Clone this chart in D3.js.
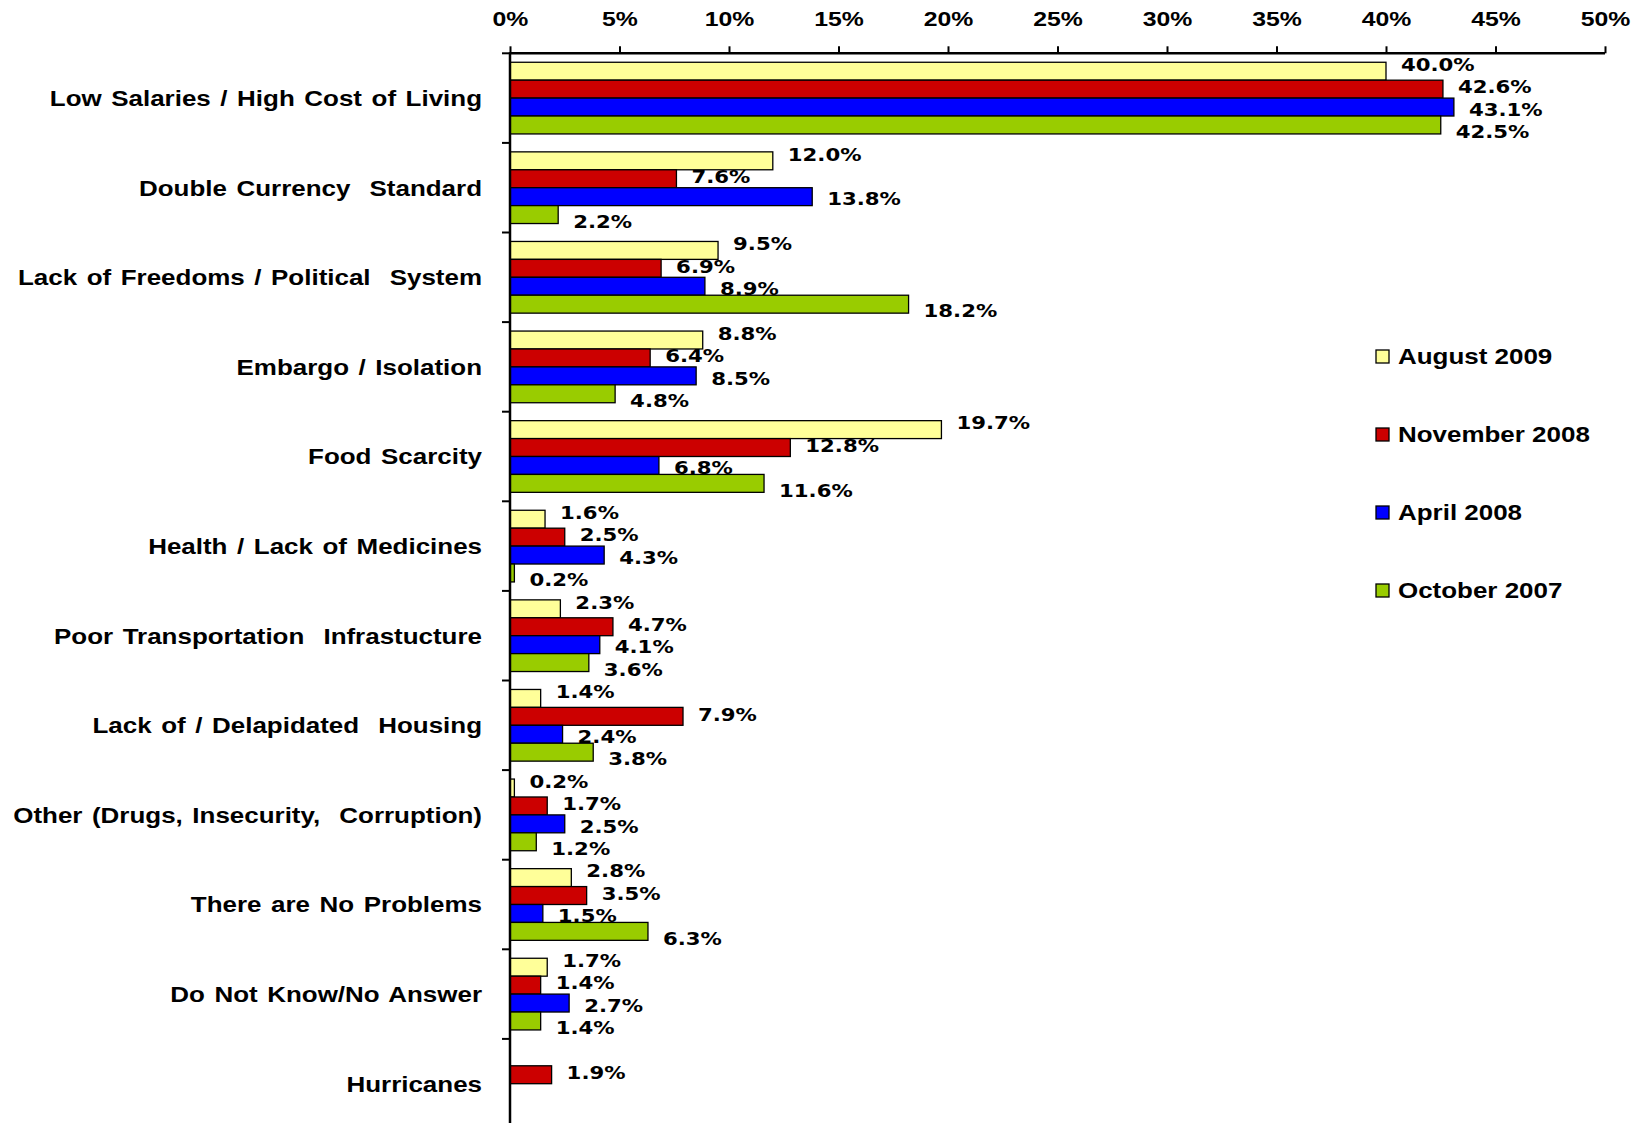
<!DOCTYPE html>
<html>
<head>
<meta charset="utf-8">
<script src="https://cdn.jsdelivr.net/npm/d3@7"></script>
<style>
body{margin:0;background:#fff;}
text{white-space:pre;}
</style>
</head>
<body>
<script>
var categories = [
	"Low Salaries / High Cost of Living",
	"Double Currency  Standard",
	"Lack of Freedoms / Political  System",
	"Embargo / Isolation",
	"Food Scarcity",
	"Health / Lack of Medicines",
	"Poor Transportation  Infrastucture",
	"Lack of / Delapidated  Housing",
	"Other (Drugs, Insecurity,  Corruption)",
	"There are No Problems",
	"Do Not Know/No Answer",
	"Hurricanes"
];
var seriesNames = ["August 2009","November 2008","April 2008","October 2007"];
var seriesColors = ["#FFFF99","#CC0000","#0000FF","#99CC00"];
var aug2009 = [40.0, 12.0, 9.5, 8.8, 19.7, 1.6, 2.3, 1.4, 0.2, 2.8, 1.7, null];
var nov2008 = [42.6, 7.6, 6.9, 6.4, 12.8, 2.5, 4.7, 7.9, 1.7, 3.5, 1.4, 1.9];
var apr2008 = [43.1, 13.8, 8.9, 8.5, 6.8, 4.3, 4.1, 2.4, 2.5, 1.5, 2.7, null];
var oct2007 = [42.5, 2.2, 18.2, 4.8, 11.6, 0.2, 3.6, 3.8, 1.2, 6.3, 1.4, null];
var xTicks = [0,5,10,15,20,25,30,35,40,45,50];

var seriesValues = [aug2009, nov2008, apr2008, oct2007];
var svgwidth = 1639, svgheight = 1123;
var stretch = 1.18;	// the source picture is stretched sideways
var plotLeft = 510, plotRight = 1605, plotTop = 53.3, bandStep = 89.6;

var svg = d3.select("body")
	.append("svg")
	.attr("width",svgwidth)
	.attr("height",svgheight);

var x = d3.scaleLinear().domain([0,50]).range([plotLeft,plotRight]);
var y = d3.scaleBand().domain(categories)
	.range([plotTop, plotTop+bandStep*categories.length])
	.paddingInner(0).paddingOuter(0);
var ys = d3.scaleBand().domain(seriesNames)
	.range([0, y.bandwidth()])
	.paddingInner(0).paddingOuter(0.5);

// rows of bars
var rows = [];
categories.forEach(function(c,i){
	seriesNames.forEach(function(s,j){
		if(seriesValues[j][i]!=null) rows.push({cat:c, series:s, j:j, v:seriesValues[j][i]});
	});
});

svg.append("g").selectAll("rect")
	.data(rows).enter().append("rect")
	.attr("x",x(0))
	.attr("y",function(d){return y(d.cat)+ys(d.series);})
	.attr("width",function(d){return x(d.v)-x(0);})
	.attr("height",ys.bandwidth())
	.attr("fill",function(d){return seriesColors[d.j];})
	.attr("stroke","#000")
	.attr("stroke-width",1.3);

// value labels, spread a bit wider than the bars as in the source
svg.append("g").selectAll("text")
	.data(rows).enter().append("text")
	.attr("transform",function(d){
		var mid = y(d.cat)+y.bandwidth()/2;
		var bc = y(d.cat)+ys(d.series)+ys.bandwidth()/2;
		return "translate("+(x(d.v)+15)+","+(mid+(bc-mid)*1.25)+") scale("+stretch+",1)";
	})
	.attr("dy","0.36em")
	.attr("font-family","DejaVu Sans")
	.attr("font-weight","bold")
	.attr("font-size","18px")
	.attr("fill","#000")
	.text(function(d){return d.v.toFixed(1)+"%";});

// top axis
var axisTop = d3.axisTop(x).tickValues(xTicks).tickSize(7).tickFormat(function(d){return d+"%";});
var gx = svg.append("g").attr("transform","translate(0,"+plotTop+")").call(axisTop);
gx.select(".domain").attr("d","M"+plotLeft+",0H"+plotRight).attr("stroke","#000").attr("stroke-width",2.5);
gx.selectAll(".tick line").attr("stroke","#000").attr("stroke-width",2);
gx.selectAll(".tick text")
	.attr("y",0).attr("dy",0)
	.attr("transform",function(){return "translate(0,-27) scale("+stretch+",1)";})
	.attr("font-family","Liberation Sans, Arial, sans-serif")
	.attr("font-weight","bold")
	.attr("font-size","21px")
	.attr("fill","#000");

// left axis
svg.append("line")
	.attr("x1",plotLeft).attr("x2",plotLeft)
	.attr("y1",plotTop-1).attr("y2",svgheight)
	.attr("stroke","#000").attr("stroke-width",2.5);
svg.append("g").selectAll("line")
	.data(categories).enter().append("line")
	.attr("x1",plotLeft-8).attr("x2",plotLeft)
	.attr("y1",function(d){return y(d);})
	.attr("y2",function(d){return y(d);})
	.attr("stroke","#000").attr("stroke-width",2);

svg.append("g").selectAll("text")
	.data(categories).enter().append("text")
	.attr("transform",function(d){return "translate(482,"+(y(d)+y.bandwidth()/2)+") scale("+stretch+",1)";})
	.attr("dy","0.36em")
	.attr("text-anchor","end")
	.attr("font-family","Liberation Sans, Arial, sans-serif")
	.attr("font-weight","bold")
	.attr("font-size","22px")
	.attr("word-spacing","2px")
	.attr("fill","#000")
	.text(function(d){return d;});

// legend
var legend = svg.append("g").selectAll("g")
	.data(seriesNames).enter().append("g")
	.attr("transform",function(d,i){return "translate(1376,"+(356.5+i*78)+")";});
legend.append("rect")
	.attr("x",0).attr("y",-6.5)
	.attr("width",13).attr("height",13)
	.attr("fill",function(d,i){return seriesColors[i];})
	.attr("stroke","#000").attr("stroke-width",1.3);
legend.append("text")
	.attr("transform","translate(22,0) scale("+stretch+",1)")
	.attr("dy","0.36em")
	.attr("font-family","Liberation Sans, Arial, sans-serif")
	.attr("font-weight","bold")
	.attr("font-size","22px")
	.attr("fill","#000")
	.text(function(d){return d;});
</script>
</body>
</html>
